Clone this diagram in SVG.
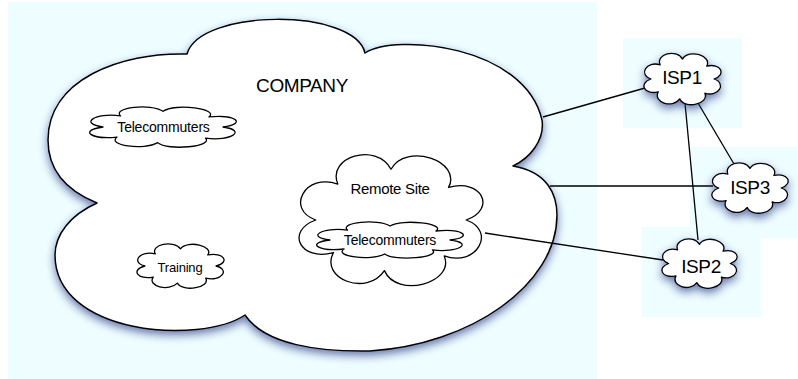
<svg xmlns="http://www.w3.org/2000/svg" xmlns:xlink="http://www.w3.org/1999/xlink" width="798" height="379" viewBox="0 0 798 379">
  <style>
    .backdrop { fill: #eefdff; stroke: none; }
    .cloud { fill: #ffffff; stroke: #000000; stroke-width: 1.5; stroke-linejoin: round; }
    .puff { fill: #ffffff; stroke: #000000; stroke-width: 1.3; stroke-linejoin: round; vector-effect: non-scaling-stroke; }
    .link { stroke: #000000; stroke-width: 1.3; fill: none; }
    .label { font-family: "Liberation Sans", Arial, Helvetica, sans-serif; fill: #000000; text-anchor: middle; }
    .big { font-size: 19px; letter-spacing: -0.4px; }
    .mid { font-size: 15px; letter-spacing: -0.3px; }
    .small { font-size: 14px; letter-spacing: -0.2px; }
    .tiny { font-size: 13px; letter-spacing: -0.2px; }
  </style>
  <defs>
    <filter id="soft-shadow" x="-20%" y="-20%" width="140%" height="150%">
      <feDropShadow dx="0" dy="4" stdDeviation="4" flood-color="#1c2f7a" flood-opacity="0.62"/>
    </filter>
    <!-- generic puffy cloud with eight lobes, roughly 100 x 92 units around the origin -->
    <path id="puff" class="puff" d="M40,0 C56.4,7.8 45.5,33.7 28.3,25.5 C34.3,44.7 3,55.9 -3.5,35.9 C-12.8,54.6 -38.1,41.6 -30.6,23.1 C-48.3,29.7 -56.4,7.8 -40,0 C-56.4,-7.8 -45.5,-33.7 -28.3,-25.5 C-34.3,-44.7 -7.9,-55.5 0,-36 C7.9,-55.5 38.1,-41.6 30.6,-23.1 C48.3,-29.7 56.4,-7.8 40,0 Z"/>
  </defs>

  <!-- highlight panels behind the clouds -->
  <g id="backdrops">
    <rect class="backdrop" x="8" y="2" width="589" height="377"/>
    <rect class="backdrop" x="623" y="38" width="119" height="90"/>
    <rect class="backdrop" x="690" y="147" width="108" height="91"/>
    <rect class="backdrop" x="642" y="227" width="119" height="90"/>
  </g>

  <g id="company">
    <path class="cloud" filter="url(#soft-shadow)" d="M187,54 C200,8 355,8 365,53 C395,33 525,45 542,120 C545,140 530,158 513,166 C548,172 557,195 557,215 C557,285 470,345 370,351 C320,352 265,345 245,315 C200,345 55,335 55,255 C55,235 70,215 97,203 C65,190 48,170 48,140 C48,80 120,52 187,54 Z"/>
    <text class="label big" x="302" y="92">COMPANY</text>
  </g>

  <g id="telecommuters-hq">
    <use xlink:href="#puff" transform="translate(163,127) scale(1.5,0.435)"/>
    <text class="label small" x="163.5" y="132">Telecommuters</text>
  </g>

  <g id="training">
    <use xlink:href="#puff" transform="translate(180.5,266) scale(0.89,0.478)"/>
    <text class="label tiny" x="180" y="272">Training</text>
  </g>

  <g id="remote-site">
    <use xlink:href="#puff" transform="translate(391,220) scale(1.88,1.41)"/>
    <text class="label mid" x="390" y="194">Remote Site</text>
  </g>

  <g id="telecommuters-remote">
    <use xlink:href="#puff" transform="translate(390,240) scale(1.5,0.39)"/>
    <text class="label small" x="390" y="245">Telecommuters</text>
  </g>

  <g id="connectors">
    <line class="link" x1="543" y1="117" x2="645" y2="88"/>
    <line class="link" x1="550" y1="186" x2="713" y2="186"/>
    <line class="link" x1="485" y1="233" x2="663" y2="260"/>
    <line class="link" x1="685" y1="103" x2="698" y2="240"/>
    <line class="link" x1="698" y1="103" x2="734" y2="164"/>
  </g>

  <g id="isp1">
    <g filter="url(#soft-shadow)">
      <use xlink:href="#puff" transform="translate(682.5,79) scale(0.79,0.554)"/>
    </g>
    <text class="label big" x="682" y="84">ISP1</text>
  </g>

  <g id="isp3">
    <g filter="url(#soft-shadow)">
      <use xlink:href="#puff" transform="translate(750,188) scale(0.78,0.543)"/>
    </g>
    <text class="label big" x="750" y="194">ISP3</text>
  </g>

  <g id="isp2">
    <g filter="url(#soft-shadow)">
      <use xlink:href="#puff" transform="translate(699.5,263.5) scale(0.77,0.533)"/>
    </g>
    <text class="label big" x="701" y="273">ISP2</text>
  </g>
</svg>
